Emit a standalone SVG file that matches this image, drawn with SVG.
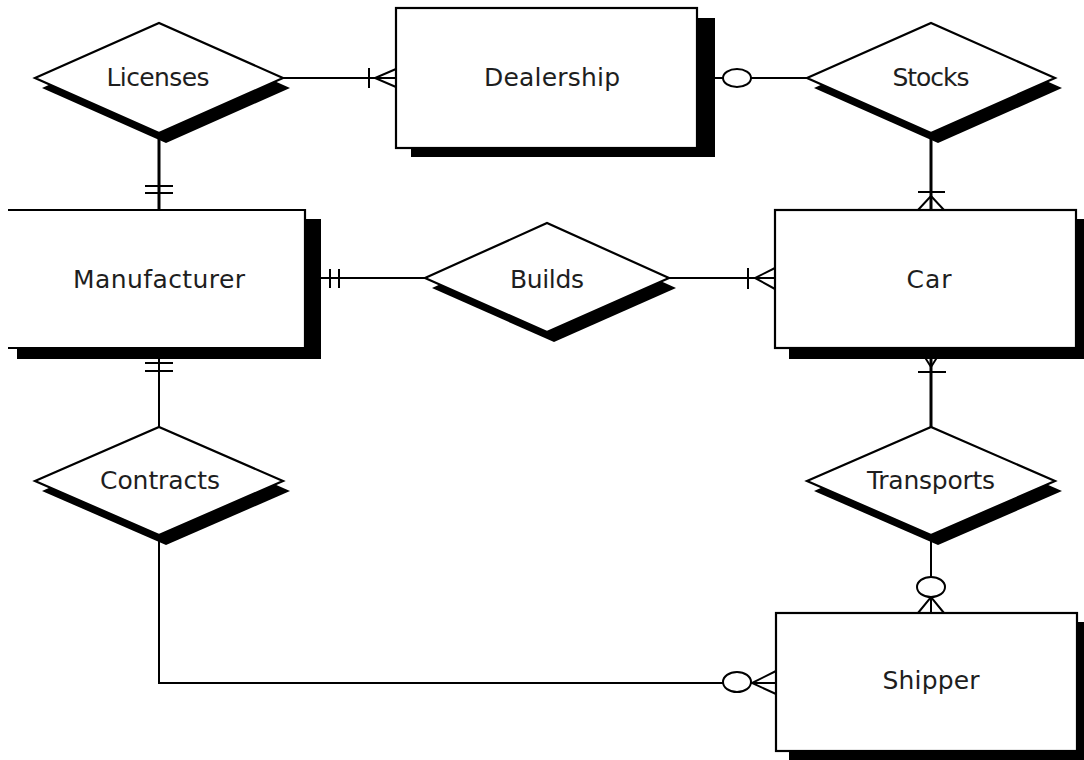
<svg xmlns="http://www.w3.org/2000/svg" width="1084" height="760" viewBox="0 0 1084 760">
  <style>
    .bg { fill: #ffffff; }
    .line { fill: none; stroke: #000; stroke-width: 2; }
    .vline { fill: none; stroke: #000; stroke-width: 3; }
    .tick { fill: none; stroke: #000; stroke-width: 2; }
    .ring { fill: #fff; stroke: #000; stroke-width: 2; }
    .shadow { fill: #000; }
    .box { fill: #fff; stroke: #000; stroke-width: 2.2; }
    .label { font-family: "DejaVu Sans", "Liberation Sans", sans-serif; font-size: 25px; fill: #1e1e1e; text-anchor: middle; }
  </style>
  <rect class="bg" x="0" y="0" width="1084" height="760"/>

  <!-- relationship lines with cardinality marks -->
  <g id="connectors">
    <!-- Licenses to Dealership: one or many -->
    <line class="line" x1="283" y1="78" x2="396" y2="78"/>
    <line class="tick" x1="369" y1="68" x2="369" y2="88"/>
    <polyline class="line" points="396,69 375,78 396,87"/>

    <!-- Licenses to Manufacturer: exactly one -->
    <line class="vline" x1="159" y1="133" x2="159" y2="210"/>
    <line class="tick" x1="145" y1="186" x2="173" y2="186"/>
    <line class="tick" x1="145" y1="193" x2="173" y2="193"/>

    <!-- Dealership to Stocks: zero -->
    <line class="line" x1="697" y1="78" x2="807" y2="78"/>
    <ellipse class="ring" cx="737" cy="78" rx="14" ry="9"/>

    <!-- Stocks to Car: one or many -->
    <line class="vline" x1="931" y1="133" x2="931" y2="210"/>
    <line class="tick" x1="918" y1="192" x2="945" y2="192"/>
    <polyline class="line" points="918,210 931,196 944,210"/>

    <!-- Manufacturer to Builds: exactly one -->
    <line class="line" x1="305" y1="278" x2="425" y2="278"/>
    <line class="tick" x1="330" y1="269" x2="330" y2="288"/>
    <line class="tick" x1="339" y1="269" x2="339" y2="288"/>

    <!-- Builds to Car: one or many -->
    <line class="line" x1="669" y1="278" x2="775" y2="278"/>
    <line class="tick" x1="748" y1="268" x2="748" y2="289"/>
    <polyline class="line" points="775,268 755,278 775,289"/>

    <!-- Manufacturer to Contracts: exactly one -->
    <line class="line" x1="159" y1="348" x2="159" y2="427"/>
    <line class="tick" x1="145" y1="363" x2="173" y2="363"/>
    <line class="tick" x1="145" y1="371" x2="173" y2="371"/>

    <!-- Car to Transports: one or many -->
    <line class="vline" x1="931" y1="348" x2="931" y2="427"/>
    <polyline class="line" points="919,348 931,367 943,348"/>
    <line class="tick" x1="918" y1="372" x2="946" y2="372"/>

    <!-- Transports to Shipper: zero or many -->
    <line class="line" x1="931" y1="535" x2="931" y2="613"/>
    <polyline class="line" points="918,613 931,597 944,613"/>
    <ellipse class="ring" cx="931" cy="587" rx="14" ry="10"/>

    <!-- Contracts to Shipper: zero or many -->
    <path class="line" d="M159,535 V683 H776"/>
    <polyline class="line" points="776,671 752,683 776,694"/>
    <ellipse class="ring" cx="737" cy="682" rx="14" ry="10"/>
  </g>

  <!-- entities -->
  <g id="dealership">
    <rect class="shadow" x="411" y="18" width="304" height="139"/>
    <rect class="box" x="396" y="8" width="301" height="140"/>
    <text class="label" x="552" y="86" textLength="136" lengthAdjust="spacing">Dealership</text>
  </g>

  <g id="manufacturer">
    <rect class="shadow" x="17" y="219" width="304" height="140"/>
    <path class="box" d="M8,210 H305 V348 H8"/>
    <text class="label" x="159" y="288" textLength="172" lengthAdjust="spacing">Manufacturer</text>
  </g>

  <g id="car">
    <rect class="shadow" x="789" y="219" width="300" height="140"/>
    <rect class="box" x="775" y="210" width="301" height="138"/>
    <text class="label" x="929" y="288" textLength="45" lengthAdjust="spacing">Car</text>
  </g>

  <g id="shipper">
    <rect class="shadow" x="789" y="622" width="300" height="140"/>
    <rect class="box" x="776" y="613" width="301" height="138"/>
    <text class="label" x="931" y="689" textLength="97" lengthAdjust="spacing">Shipper</text>
  </g>

  <!-- relationships -->
  <g id="licenses">
    <polygon class="shadow" points="42,88 166,33 290,88 166,143"/>
    <polygon class="box" points="35,78 159,23 283,78 159,133"/>
    <text class="label" x="158" y="86" textLength="103" lengthAdjust="spacing">Licenses</text>
  </g>

  <g id="stocks">
    <polygon class="shadow" points="814,88 938,33 1062,88 938,143"/>
    <polygon class="box" points="807,78 931,23 1055,78 931,133"/>
    <text class="label" x="931" y="86" textLength="77" lengthAdjust="spacing">Stocks</text>
  </g>

  <g id="builds">
    <polygon class="shadow" points="432,288 554,233 676,288 554,342"/>
    <polygon class="box" points="425,278 547,223 669,278 547,332"/>
    <text class="label" x="547" y="288" textLength="74" lengthAdjust="spacing">Builds</text>
  </g>

  <g id="contracts">
    <polygon class="shadow" points="42,491 166,437 290,491 166,545"/>
    <polygon class="box" points="35,481 159,427 283,481 159,535"/>
    <text class="label" x="160" y="489" textLength="120" lengthAdjust="spacing">Contracts</text>
  </g>

  <g id="transports">
    <polygon class="shadow" points="814,491 938,437 1062,491 938,545"/>
    <polygon class="box" points="807,481 931,427 1055,481 931,535"/>
    <text class="label" x="931" y="489" textLength="128" lengthAdjust="spacing">Transports</text>
  </g>
</svg>
